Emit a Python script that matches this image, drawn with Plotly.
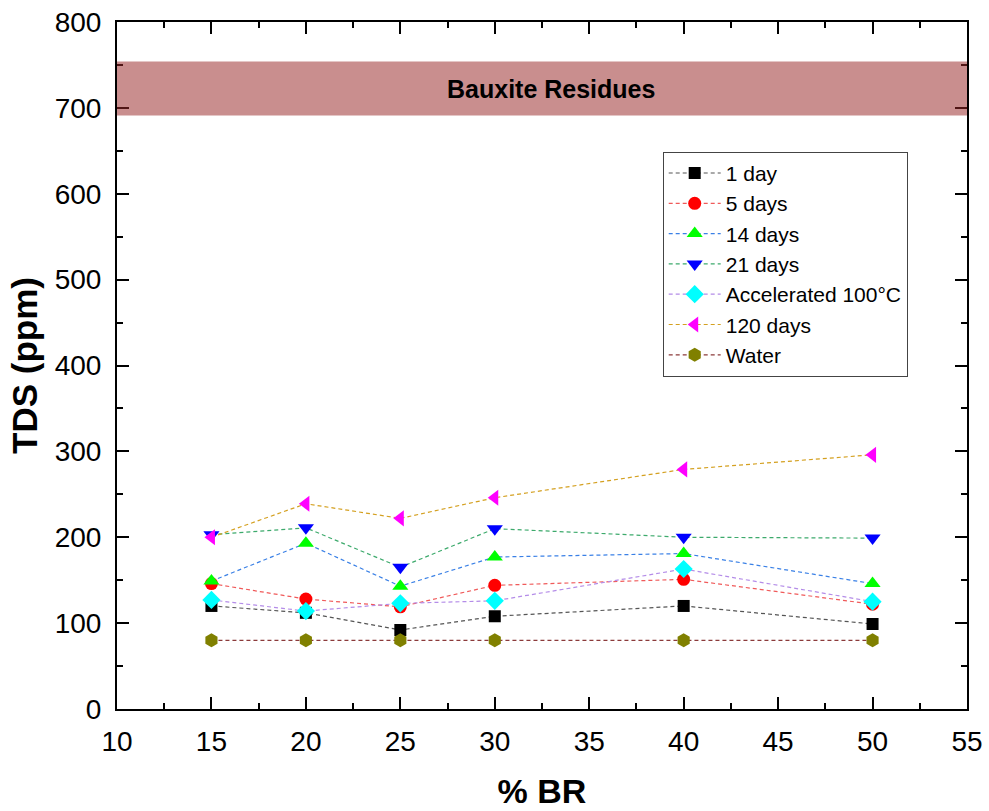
import plotly.graph_objects as go

# ---- data ----
br_pct = [15, 20, 25, 30, 40, 50]
day1 = [120, 112, 92, 108, 120, 99]
day5 = [146, 128, 119, 144, 151, 122]
day14 = [149, 193, 143, 177, 181, 146]
day21 = [203, 211, 165, 210, 200, 199]
accel100 = [127, 114, 123, 126, 163, 125]
day120 = [200, 239, 222, 246, 279, 296]
water = [80, 80, 80, 80, 80, 80]

series_names = ["1 day", "5 days", "14 days", "21 days", "Accelerated 100°C", "120 days", "Water"]
series_values = [day1, day5, day14, day21, accel100, day120, water]
marker_symbols = ["square", "circle", "triangle-up", "triangle-down", "diamond", "triangle-left", "hexagon"]
marker_colors = ["#000000", "#ff0000", "#00ff00", "#0000ff", "#00ffff", "#ff00ff", "#808000"]
line_colors = ["#555555", "#f05a5a", "#3a80e6", "#3daa6c", "#b48ce8", "#d4a020", "#8b3a3a"]
marker_sizes = [12, 13, 14, 14, 14, 14, 14]

band_low, band_high = 691, 754
band_label = "Bauxite Residues"

fig = go.Figure()
for name, vals, sym, mc, lc, ms in zip(series_names, series_values, marker_symbols,
                                        marker_colors, line_colors, marker_sizes):
    fig.add_trace(go.Scatter(
        x=br_pct, y=vals, name=name, mode="lines+markers",
        line=dict(color=lc, width=1.2, dash="4px,3px"),
        marker=dict(symbol=sym, color=mc, size=ms, line=dict(width=0)),
    ))

fig.add_shape(type="rect", xref="paper", yref="y", x0=0, x1=1, y0=band_low, y1=band_high,
              fillcolor="rgba(152,40,40,0.525)", line=dict(width=0), layer="above")
fig.add_annotation(x=0.51, xref="paper", y=(band_low + band_high) / 2, yref="y",
                   text="<b>%s</b>" % band_label, showarrow=False,
                   font=dict(family="Liberation Sans, Arial", size=25, color="#000000"))

axis_common = dict(
    showline=True, linecolor="#000000", linewidth=2, mirror="allticks",
    ticks="inside", ticklen=12, tickwidth=2, tickcolor="#000000",
    showgrid=False, zeroline=False, automargin=False,
    tickfont=dict(family="Liberation Sans, Arial", size=28, color="#000000"),
)

fig.update_xaxes(range=[10, 55], dtick=5, tick0=10,
                 minor=dict(ticks="inside", ticklen=6, tickwidth=2, dtick=2.5, tickcolor="#000000"),
                 title=dict(text="<b>% BR</b>", standoff=24,
                            font=dict(family="Liberation Sans, Arial", size=34, color="#000000")),
                 ticklabelstandoff=6,
                 **axis_common)
fig.update_yaxes(range=[0, 800], dtick=100, tick0=0,
                 minor=dict(ticks="inside", ticklen=6, tickwidth=2, dtick=50, tickcolor="#000000"),
                 title=dict(text="<b>TDS (ppm)</b>", standoff=6,
                            font=dict(family="Liberation Sans, Arial", size=35, color="#000000")),
                 ticklabelstandoff=8,
                 **axis_common)

fig.update_layout(
    width=989, height=811,
    margin=dict(l=117, r=22, t=22, b=102),
    plot_bgcolor="#ffffff", paper_bgcolor="#ffffff",
    showlegend=True,
    legend=dict(x=0.642, y=0.811, xanchor="left", yanchor="top",
                bordercolor="#444444", borderwidth=1, bgcolor="rgba(255,255,255,1)",
                font=dict(family="Liberation Sans, Arial", size=21, color="#000000"),
                tracegroupgap=0, itemwidth=52),
    font=dict(family="Liberation Sans, Arial"),
)

fig.write_html("out.html")
